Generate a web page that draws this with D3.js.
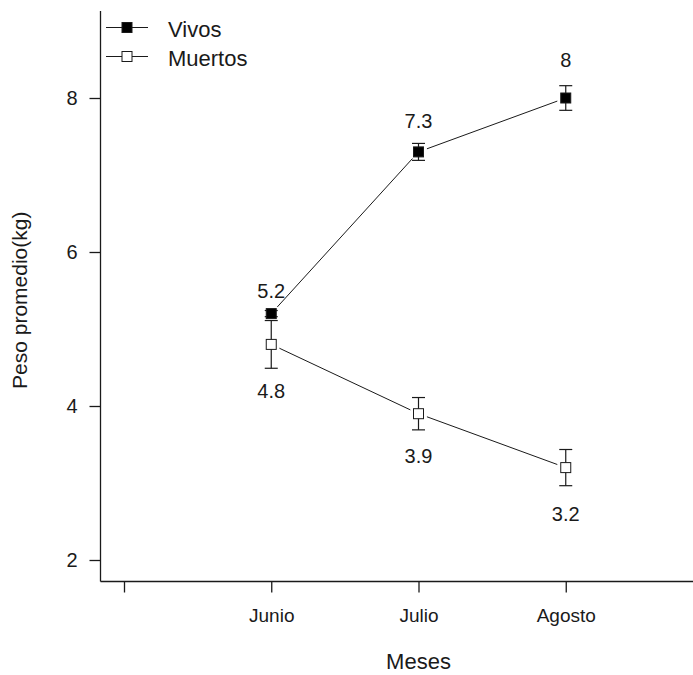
<!DOCTYPE html>
<html>
<head>
<meta charset="utf-8">
<script src="https://cdn.jsdelivr.net/npm/d3@7"></script>
<style>
  html, body { margin: 0; padding: 0; background: #fff; }
  svg text { font-family: "Liberation Sans", Arial, sans-serif; fill: #1a1a1a; }
</style>
</head>
<body>
<svg id="chart" width="693" height="675"></svg>
<script>
// Months on the x axis (positions 1..3; 0 and 4 are unlabeled ticks)
const months = ["Junio", "Julio", "Agosto"];
const xTickValues = [0, 1, 2, 3, 4];
const yTickValues = [2, 4, 6, 8];

// Mean weight (kg) and standard error per month
const vivosMean = [5.2, 7.3, 8.0];
const vivosSE = [0.04, 0.11, 0.16];
const muertosMean = [4.8, 3.9, 3.2];
const muertosSE = [0.31, 0.21, 0.235];

// Value labels and the y value each label is written at
const vivosLabels = ["5.2", "7.3", "8"];
const vivosLabelAt = [5.5, 7.7, 8.5];
const muertosLabels = ["4.8", "3.9", "3.2"];
const muertosLabelAt = [4.2, 3.35, 2.6];

const seriesNames = ["Vivos", "Muertos"];

const svg = d3.select("#chart");
const ink = "#1a1a1a";

const x = d3.scaleLinear().domain([0, 4]).range([124, 713]);
const y = d3.scaleLinear().domain([2, 8]).range([560, 98]);

const axisLeftX = 100.5, axisBottomY = 581.5, plotTop = 11;

// Axes (L-shaped box)
const yAxis = d3.axisLeft(y).tickValues(yTickValues).tickSize(11).tickPadding(12).tickFormat(d3.format("d"));
const gy = svg.append("g").attr("transform", `translate(${axisLeftX},0)`).call(yAxis);
gy.select(".domain").remove();
gy.append("line").attr("x1", 0).attr("x2", 0).attr("y1", plotTop).attr("y2", axisBottomY)
  .attr("stroke", ink).attr("stroke-width", 1.3);
gy.selectAll(".tick line").attr("stroke", ink).attr("stroke-width", 1.3);
gy.selectAll(".tick text").attr("font-size", 20).attr("fill", ink)
  .style("font-family", "'Liberation Sans', Arial, sans-serif");

const xAxis = d3.axisBottom(x).tickValues(xTickValues).tickSize(11).tickPadding(16)
  .tickFormat(d => months[d - 1] || "");
const gx = svg.append("g").attr("transform", `translate(0,${axisBottomY})`).call(xAxis);
gx.select(".domain").remove();
gx.append("line").attr("x1", axisLeftX).attr("x2", 693).attr("y1", 0).attr("y2", 0)
  .attr("stroke", ink).attr("stroke-width", 1.3);
gx.selectAll(".tick line").attr("stroke", ink).attr("stroke-width", 1.3);
gx.selectAll(".tick text").attr("font-size", 19).attr("fill", ink)
  .style("font-family", "'Liberation Sans', Arial, sans-serif");

// Axis titles
svg.append("text").attr("x", x(2)).attr("y", 669).attr("text-anchor", "middle")
  .attr("font-size", 22).text("Meses");
svg.append("text").attr("transform", `translate(27,${(plotTop + axisBottomY) / 2 + 4}) rotate(-90)`)
  .attr("text-anchor", "middle").attr("font-size", 21).text("Peso promedio(kg)");

// Connecting line with gaps around each point
function gappedSegments(means) {
  const pts = means.map((m, i) => [x(i + 1), y(m)]);
  const gap = 9;
  const segs = [];
  for (let i = 0; i < pts.length - 1; i++) {
    const [x0, y0] = pts[i], [x1, y1] = pts[i + 1];
    const len = Math.hypot(x1 - x0, y1 - y0);
    const ux = (x1 - x0) / len, uy = (y1 - y0) / len;
    segs.push([x0 + ux * gap, y0 + uy * gap, x1 - ux * gap, y1 - uy * gap]);
  }
  return segs;
}

function drawSeries(means, ses, filled, labels, labelAt) {
  const g = svg.append("g");
  g.selectAll("line.seg").data(gappedSegments(means)).join("line")
    .attr("class", "seg")
    .attr("x1", d => d[0]).attr("y1", d => d[1]).attr("x2", d => d[2]).attr("y2", d => d[3])
    .attr("stroke", ink).attr("stroke-width", 1);

  const capHalf = 6.5;
  const eb = g.selectAll("g.eb").data(means).join("g").attr("class", "eb");
  eb.append("line").attr("x1", (d, i) => x(i + 1)).attr("x2", (d, i) => x(i + 1))
    .attr("y1", (d, i) => y(d + ses[i])).attr("y2", (d, i) => y(d - ses[i]))
    .attr("stroke", ink).attr("stroke-width", 1.2);
  eb.append("line").attr("x1", (d, i) => x(i + 1) - capHalf).attr("x2", (d, i) => x(i + 1) + capHalf)
    .attr("y1", (d, i) => y(d + ses[i])).attr("y2", (d, i) => y(d + ses[i]))
    .attr("stroke", ink).attr("stroke-width", 1.2);
  eb.append("line").attr("x1", (d, i) => x(i + 1) - capHalf).attr("x2", (d, i) => x(i + 1) + capHalf)
    .attr("y1", (d, i) => y(d - ses[i])).attr("y2", (d, i) => y(d - ses[i]))
    .attr("stroke", ink).attr("stroke-width", 1.2);

  const s = 10;
  g.selectAll("rect.pt").data(means).join("rect").attr("class", "pt")
    .attr("x", (d, i) => x(i + 1) - s / 2).attr("y", d => y(d) - s / 2)
    .attr("width", s).attr("height", s)
    .attr("fill", filled ? "#000" : "#fff").attr("stroke", ink).attr("stroke-width", 1);

  g.selectAll("text.val").data(labels).join("text").attr("class", "val")
    .attr("x", (d, i) => x(i + 1)).attr("y", (d, i) => y(labelAt[i]))
    .attr("dy", "0.35em").attr("text-anchor", "middle").attr("font-size", 20).text(d => d);
}

drawSeries(vivosMean, vivosSE, true, vivosLabels, vivosLabelAt);
drawSeries(muertosMean, muertosSE, false, muertosLabels, muertosLabelAt);

// Legend
const legend = svg.append("g");
seriesNames.forEach((name, i) => {
  const ly = 27.5 + i * 29;
  legend.append("line").attr("x1", 106).attr("x2", 148).attr("y1", ly).attr("y2", ly)
    .attr("stroke", ink).attr("stroke-width", 1.2);
  legend.append("rect").attr("x", 122).attr("y", ly - 5).attr("width", 10).attr("height", 10)
    .attr("fill", i === 0 ? "#000" : "#fff").attr("stroke", ink).attr("stroke-width", 1);
  legend.append("text").attr("x", 168).attr("y", ly + 1.8).attr("dy", "0.35em")
    .attr("font-size", 22).text(name);
});
</script>
</body>
</html>
